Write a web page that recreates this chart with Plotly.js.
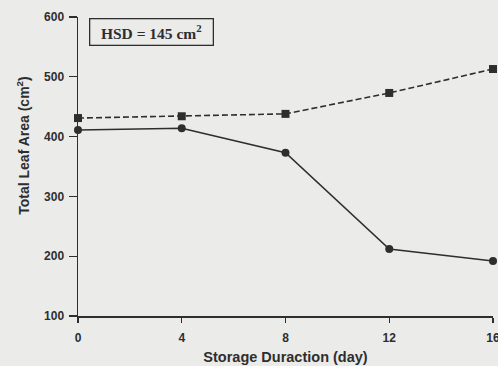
<!DOCTYPE html>
<html>
<head>
<meta charset="utf-8">
<script src="https://cdn.plot.ly/plotly-3.0.1.min.js"></script>
<style>html,body{margin:0;padding:0;background:#ebebea;}#chart{width:498px;height:366px;}</style>
</head>
<body>
<div id="chart"></div>
<script>
const days = [0, 4, 8, 12, 16];
const dashedSeries = [431, 434, 438, 473, 513];
const solidSeries = [411, 414, 373, 212, 192];
const xTicks = [0, 4, 8, 12, 16];
const yTicks = [100, 200, 300, 400, 500, 600];

const ink = '#2e2e2e';
const sans = 'Liberation Sans, Arial, sans-serif';
const traces = [
  {x: days, y: dashedSeries, mode: 'lines+markers', type: 'scatter',
   line: {color: ink, width: 1.6, dash: '6px,3px'},
   marker: {symbol: 'square', size: 8, color: ink}, cliponaxis: false},
  {x: days, y: solidSeries, mode: 'lines+markers', type: 'scatter',
   line: {color: ink, width: 1.6},
   marker: {symbol: 'circle', size: 8, color: ink}, cliponaxis: false}
];
const layout = {
  width: 498, height: 366,
  margin: {l: 78, r: 5, t: 17, b: 50},
  paper_bgcolor: '#ebebea', plot_bgcolor: '#ebebea',
  showlegend: false,
  font: {family: sans, color: ink, size: 12},
  xaxis: {range: [0, 16], tickvals: xTicks, ticktext: xTicks.map(String),
    showgrid: false, zeroline: false, showline: true, linecolor: ink, linewidth: 1.5,
    ticks: 'outside', ticklen: 5, tickcolor: ink, tickwidth: 1.3,
    ticklabelstandoff: 5, ticklabeloverflow: 'allow',
    tickfont: {family: sans, size: 12, weight: 'bold', color: ink},
    title: {text: '<b>Storage Duraction (day)</b>', standoff: 8,
      font: {family: sans, size: 14.5, color: ink}}},
  yaxis: {range: [100, 600], tickvals: yTicks, ticktext: yTicks.map(String),
    showgrid: false, zeroline: false, showline: true, linecolor: ink, linewidth: 1.5,
    ticks: 'outside', ticklen: 8, tickcolor: ink, tickwidth: 1.3,
    ticklabelstandoff: 2,
    tickfont: {family: sans, size: 12, weight: 'bold', color: ink}},
  annotations: [{
    xref: 'paper', yref: 'paper', x: 0.176, y: 0.951, xanchor: 'center', yanchor: 'middle',
    text: 'HSD = 145 cm<sup>2</sup>', showarrow: false,
    font: {family: 'Liberation Serif, Times New Roman, serif', size: 15.5, color: ink, weight: 'bold'},
    width: 118, height: 21, align: 'center',
    bordercolor: ink, borderwidth: 1.3, borderpad: 2, bgcolor: 'rgba(0,0,0,0)'
  }, {
    xref: 'paper', yref: 'paper', x: -0.133, y: 0.572, xanchor: 'center', yanchor: 'middle',
    text: '<b>Total Leaf Area (cm<sup>2</sup>)</b>', textangle: -90, showarrow: false,
    font: {family: sans, size: 14, color: ink}
  }]
};
Plotly.newPlot('chart', traces, layout, {displayModeBar: false, staticPlot: true});
</script>
</body>
</html>
